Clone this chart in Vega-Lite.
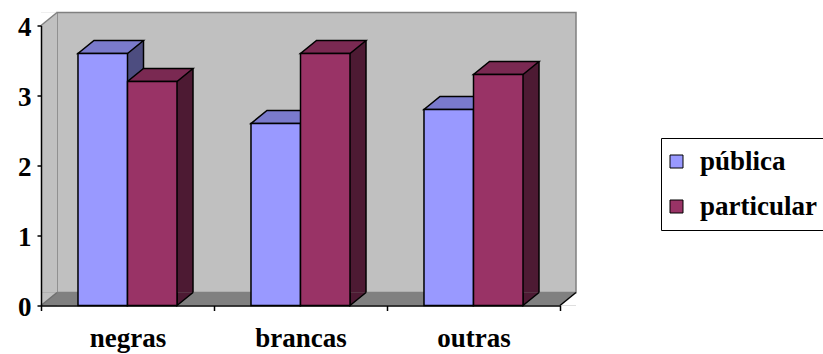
{
  "$schema": "https://vega.github.io/schema/vega-lite/v6.json",
  "width": 519,
  "height": 280,
  "autosize": {"type": "none"},
  "padding": {"left": 41, "top": 25.5, "right": 263, "bottom": 48.5},
  "background": "white",
  "config": {"view": {"stroke": null}, "font": "Liberation Serif"},
  "data": {
    "values": [
      {"grupo": "negras", "escola": "pública", "media": 3.6},
      {"grupo": "negras", "escola": "particular", "media": 3.2},
      {"grupo": "brancas", "escola": "pública", "media": 2.6},
      {"grupo": "brancas", "escola": "particular", "media": 3.6},
      {"grupo": "outras", "escola": "pública", "media": 2.8},
      {"grupo": "outras", "escola": "particular", "media": 3.3}
    ]
  },
  "layer": [
    {
      "data": {"values": [{}]},
      "mark": {"type": "rect", "fill": "#C0C0C0", "stroke": "#808080", "strokeWidth": 1.5, "xOffset": 16, "x2Offset": 16, "yOffset": -13, "y2Offset": -13},
      "encoding": {
        "x": {"value": 0},
        "x2": {"value": "width"},
        "y": {"datum": 4, "type": "quantitative", "scale": {"domain": [0, 4], "nice": false},
              "axis": {"values": [0, 1, 2, 3, 4], "format": "d", "title": null, "grid": false, "zindex": 1,
                       "domainColor": "black", "domainWidth": 1.5, "tickColor": "black", "tickWidth": 1.5, "tickSize": 4,
                       "labelPadding": 6, "labelOffset": 2, "labelFont": "Liberation Serif", "labelFontWeight": "bold", "labelFontSize": 27, "labelColor": "black"}},
        "y2": {"datum": 0}
      }
    },
    {
      "data": {"values": [{}]},
      "mark": {"type": "rect", "fill": "#C0C0C0", "x2Offset": 16, "yOffset": -13},
      "encoding": {
        "x": {"value": 0},
        "x2": {"value": 0},
        "y": {"datum": 4, "type": "quantitative"},
        "y2": {"datum": 0}
      }
    },
    {
      "data": {"values": [{}]},
      "mark": {"type": "point", "filled": true, "fill": "white", "strokeWidth": 0, "opacity": 1, "size": 4, "shape": "M0,0 L0,-13 L16,-13 Z"},
      "encoding": {"x": {"value": 0}, "y": {"datum": 4, "type": "quantitative"}}
    },
    {
      "data": {"values": [{}]},
      "mark": {"type": "rect", "fill": "#808080", "x2Offset": 16, "yOffset": -13},
      "encoding": {
        "x": {"value": 0},
        "x2": {"value": "width"},
        "y": {"datum": 0, "type": "quantitative"},
        "y2": {"datum": 0}
      }
    },
    {
      "data": {"values": [{}]},
      "mark": {"type": "point", "filled": true, "fill": "#C0C0C0", "strokeWidth": 0, "opacity": 1, "size": 4, "shape": "M0,0 L0,-13 L16,-13 Z"},
      "encoding": {"x": {"value": 0}, "y": {"datum": 0, "type": "quantitative"}}
    },
    {
      "data": {"values": [{}]},
      "mark": {"type": "point", "filled": true, "fill": "white", "strokeWidth": 0, "opacity": 1, "size": 4, "shape": "M0,0 L16,0 L16,-13 Z"},
      "encoding": {"x": {"value": "width"}, "y": {"datum": 0, "type": "quantitative"}}
    },
    {
      "data": {"values": [{}]},
      "mark": {"type": "rule", "stroke": "#808080", "strokeWidth": 1.5, "x2Offset": 16, "y2Offset": -13},
      "encoding": {"x": {"value": 0}, "x2": {"value": 0}, "y": {"datum": 4, "type": "quantitative"}, "y2": {"datum": 4}}
    },
    {
      "data": {"values": [{}]},
      "mark": {"type": "rule", "stroke": "#707070", "strokeWidth": 1.5, "x2Offset": 16, "y2Offset": -13},
      "encoding": {"x": {"value": 0}, "x2": {"value": 0}, "y": {"datum": 0, "type": "quantitative"}, "y2": {"datum": 0}}
    },
    {
      "data": {"values": [{}]},
      "mark": {"type": "rule", "stroke": "black", "strokeWidth": 1.5, "x2Offset": 16, "y2Offset": -13},
      "encoding": {"x": {"value": "width"}, "x2": {"value": "width"}, "y": {"datum": 0, "type": "quantitative"}, "y2": {"datum": 0}}
    },
    {
      "encoding": {
        "x": {"field": "grupo", "type": "nominal", "sort": ["negras", "brancas", "outras"],
              "scale": {"paddingInner": 0, "paddingOuter": 0},
              "axis": {"title": null, "tickBand": "extent", "labelAngle": 0, "grid": false, "zindex": 1,
                       "domainColor": "black", "domainWidth": 1.5, "tickColor": "black", "tickWidth": 1.5, "tickSize": 5,
                       "labelPadding": 36, "labelBaseline": "alphabetic",
                       "labelFont": "Liberation Serif", "labelFontWeight": "bold", "labelFontSize": 27, "labelColor": "black"}}
      },
      "resolve": {"scale": {"color": "independent"}},
      "layer": [
        {
          "transform": [{"filter": "datum.escola === 'pública'"}],
          "mark": {"type": "bar", "width": 16, "xOffset": 8, "yOffset": -13, "y2Offset": -13, "fill": "#4D4D80"},
          "encoding": {"y": {"field": "media", "type": "quantitative"}, "y2": {"datum": 0}}
        },
        {
          "transform": [{"filter": "datum.escola === 'particular'"}],
          "mark": {"type": "bar", "width": 16, "xOffset": 57.5, "yOffset": -13, "y2Offset": -13, "fill": "#4D1A33"},
          "encoding": {"y": {"field": "media", "type": "quantitative"}, "y2": {"datum": 0}}
        },
        {
          "mark": {"type": "point", "filled": true, "opacity": 1, "size": 4,
                   "stroke": "black", "strokeWidth": 1.5, "shape": "M40.75,-13 L24.75,0 L24.75,-13"},
          "encoding": {
            "xOffset": {"field": "escola", "type": "nominal", "sort": ["pública", "particular"],
                        "scale": {"paddingInner": 0, "paddingOuter": 0.747}},
            "y": {"datum": 0, "type": "quantitative"},
            "color": {"field": "escola", "type": "nominal", "legend": null,
                      "scale": {"domain": ["pública", "particular"], "range": ["#4D4D80", "#4D1A33"]}}
          }
        },
        {
          "transform": [{"filter": "datum.escola === 'pública'"}],
          "mark": {"type": "rule", "stroke": "black", "strokeWidth": 1.5, "xOffset": 16, "yOffset": -13, "y2Offset": -13},
          "encoding": {"y": {"field": "media", "type": "quantitative"}, "y2": {"datum": 0}}
        },
        {
          "transform": [{"filter": "datum.escola === 'particular'"}],
          "mark": {"type": "rule", "stroke": "black", "strokeWidth": 1.5, "xOffset": 65.5, "yOffset": -13, "y2Offset": -13},
          "encoding": {"y": {"field": "media", "type": "quantitative"}, "y2": {"datum": 0}}
        },
        {
          "mark": {"type": "point", "filled": true, "opacity": 1, "size": 4,
                   "stroke": "black", "strokeWidth": 1.5, "shape": "M-24.75,0 L24.75,0 L40.75,-13 L-8.75,-13 Z"},
          "encoding": {
            "xOffset": {"field": "escola", "type": "nominal", "sort": ["pública", "particular"]},
            "y": {"field": "media", "type": "quantitative"},
            "color": {"field": "escola", "type": "nominal", "legend": null,
                      "scale": {"domain": ["pública", "particular"], "range": ["#7A7ACC", "#7A2952"]}}
          }
        },
        {
          "mark": {"type": "bar", "stroke": "black", "strokeWidth": 1.5},
          "encoding": {
            "xOffset": {"field": "escola", "type": "nominal", "sort": ["pública", "particular"]},
            "y": {"field": "media", "type": "quantitative"},
            "color": {"field": "escola", "type": "nominal",
                      "scale": {"domain": ["pública", "particular"], "range": ["#9999FF", "#993366"]},
                      "legend": {"title": null, "orient": "none", "legendX": 620, "legendY": 112.5,
                                 "strokeColor": "black", "padding": 10, "rowPadding": 17,
                                 "symbolType": "square", "symbolSize": 169, "symbolStrokeColor": "black", "symbolStrokeWidth": 1,
                                 "symbolOffset": -8, "labelFont": "Liberation Serif", "labelFontWeight": "bold", "labelFontSize": 27,
                                 "labelColor": "black", "labelOffset": 10, "labelLimit": 0}}
          }
        }
      ]
    }
  ]
}
